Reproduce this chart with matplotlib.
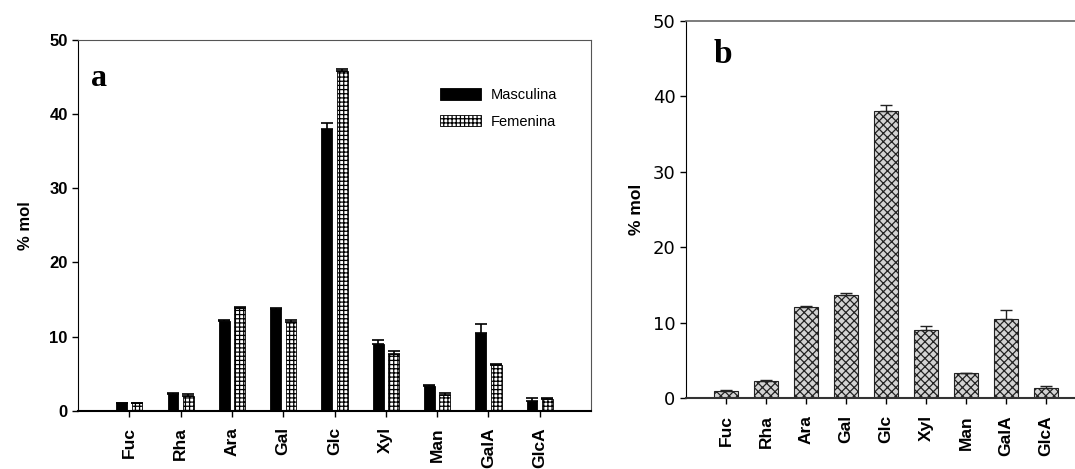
import numpy as np
import matplotlib
matplotlib.use("Agg")
import matplotlib.pyplot as plt

# Sugars and % mol values
sugars = ["Fuc", "Rha", "Ara", "Gal", "Glc", "Xyl", "Man", "GalA", "GlcA"]
masculina = [1.0, 2.3, 12.1, 13.7, 38.0, 9.0, 3.3, 10.5, 1.35]
masculina_err = [0.05, 0.1, 0.1, 0.2, 0.8, 0.6, 0.1, 1.2, 0.3]
femenina = [1.0, 2.0, 13.9, 11.9, 45.8, 7.7, 2.1, 6.1, 1.6]
femenina_err = [0.1, 0.2, 0.15, 0.3, 0.3, 0.35, 0.25, 0.15, 0.1]

plt.rcParams["font.family"] = ["Liberation Sans", "DejaVu Sans"]
plt.rcParams["hatch.linewidth"] = 0.9

fig = plt.figure(figsize=(10.75, 4.69), dpi=100)
x = np.arange(len(sugars))
zeros = np.zeros(len(sugars))

# Panel a: male vs female
ax1 = fig.add_axes([0.0726, 0.1243, 0.4772, 0.7904])
ax1.bar(x - 0.15, masculina, width=0.21, color="black", edgecolor="black",
        linewidth=0.6, label="Masculina",
        yerr=[zeros, masculina_err], capsize=4,
        error_kw=dict(ecolor="black", elinewidth=1.2, capthick=1.2))
ax1.bar(x + 0.15, femenina, width=0.21, color="white", edgecolor="black",
        hatch="++++", linewidth=0.6, label="Femenina",
        yerr=[zeros, femenina_err], capsize=4,
        error_kw=dict(ecolor="black", elinewidth=1.2, capthick=1.2))
ax1.set_xlim(-1, 9)
ax1.set_ylim(0, 50)
ax1.set_yticks([0, 10, 20, 30, 40, 50])
ax1.set_yticklabels(["0", "10", "20", "30", "40", "50"], fontweight="bold", fontsize=12)
ax1.set_xticks(x)
ax1.set_xticklabels(sugars, rotation=90, fontweight="bold", fontsize=12.5)
ax1.tick_params(axis="both", direction="out", length=4, width=1)
ax1.tick_params(axis="x", pad=8)
ax1.set_ylabel("% mol", fontweight="bold", fontsize=12, labelpad=12)
for s in ["top", "right"]:
    ax1.spines[s].set_color("#555555")
ax1.spines["bottom"].set_linewidth(1.5)
ax1.text(-0.75, 43.8, "a", fontfamily="Liberation Serif", fontweight="bold", fontsize=23)
ax1.legend(loc="upper left", bbox_to_anchor=(0.705, 0.87), frameon=False,
           fontsize=10.5, handlelength=2.8, handleheight=0.85, labelspacing=0.85,
           borderpad=0, borderaxespad=0, handletextpad=0.7)

# Panel b: single series
ax2 = fig.add_axes([0.6381, 0.1507, 0.3907, 0.8051])
ax2.bar(x, masculina, width=0.62, color="#d3d3d3", edgecolor="#222222",
        hatch="xxxx", linewidth=0.8,
        yerr=[zeros, masculina_err], capsize=4,
        error_kw=dict(ecolor="#222222", elinewidth=1, capthick=1))
ax2.set_xlim(-1, 9.5)
ax2.set_ylim(0, 50)
ax2.set_yticks([0, 10, 20, 30, 40, 50])
ax2.set_yticklabels(["0", "10", "20", "30", "40", "50"], fontfamily="DejaVu Sans", fontsize=13)
ax2.set_xticks(x)
ax2.set_xticklabels(sugars, rotation=90, fontweight="bold", fontsize=12.5)
ax2.tick_params(axis="both", direction="out", length=4, width=1)
ax2.tick_params(axis="x", pad=8)
ax2.set_ylabel("% mol", fontweight="bold", fontsize=12.5, labelpad=6)
ax2.spines["right"].set_visible(False)
ax2.spines["top"].set_color("#666666")
ax2.spines["top"].set_linewidth(1.2)
ax2.spines["bottom"].set_color("#333333")
ax2.spines["bottom"].set_linewidth(1.5)
ax2.text(-0.3, 44.4, "b", fontfamily="Liberation Serif", fontweight="bold", fontsize=24)

fig.savefig("out.png", dpi=100)
